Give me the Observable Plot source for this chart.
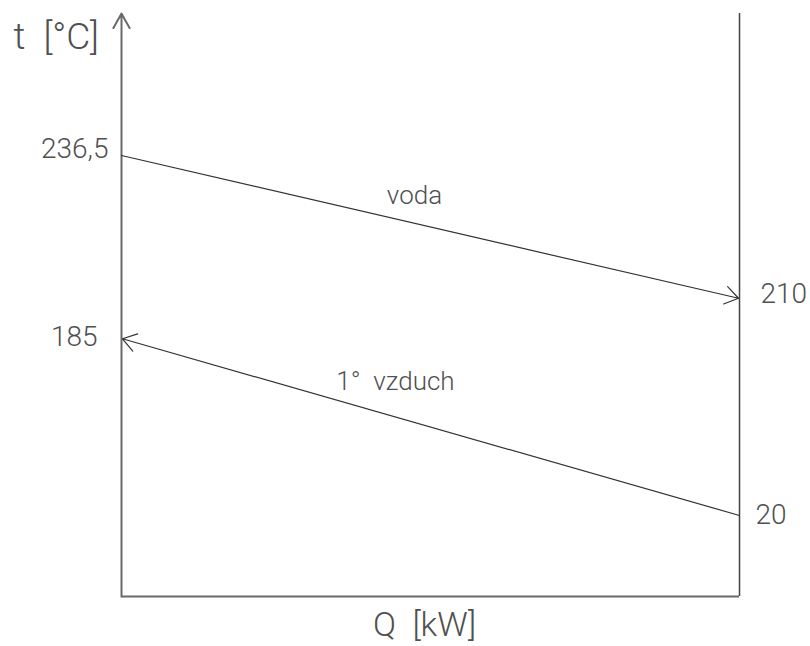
<!DOCTYPE html>
<html>
<head>
<meta charset="utf-8">
<script src="https://cdn.jsdelivr.net/npm/d3@7"></script>
<script src="https://cdn.jsdelivr.net/npm/@observablehq/plot@0.6"></script>
<style>
  html, body { margin: 0; padding: 0; background: #fff; }
  svg { display: block; }
</style>
</head>
<body>
<div id="chart"></div>
<script>
// t–Q diagram of a water / primary-air heat exchanger (schematic, not to scale)
const media   = ["voda", "1°  vzduch"];
const tStart  = [236.5, 20];   // °C at the start of each stream
const tEnd    = [210, 185];    // °C at the end of each stream
const qStart  = [0, 1];        // Q position where each stream starts
const qEnd    = [1, 0];        // Q position where each stream ends

// temperature labels on the two sides of the diagram
const leftTicks   = [236.5, 185];
const leftLabels  = ["236,5", "185"];
const rightTicks  = [210, 20];
const rightLabels = ["210", "20"];

// ends of the temperature axis
const tAxisBottom = 0;
const tAxisTop = 300;

// the diagram is not to scale: each temperature level gets a schematic height
const level = d3.scaleLinear()
  .domain([tAxisBottom, 20, 185, 210, 236.5, tAxisTop])
  .range([0, 81, 258, 298, 441, 583]);

const streams = media.map((name, i) => ({
  name, q1: qStart[i], t1: tStart[i], q2: qEnd[i], t2: tEnd[i],
  qm: (qStart[i] + qEnd[i]) / 2, tm: (tStart[i] + tEnd[i]) / 2
}));

const font = "Roboto, 'Liberation Sans', Arial, sans-serif";
const weight = 300;
const ink = "#505050";

function label(values, labels, i, x, opts) {
  return Plot.text([{t: values[i], s: labels[i]}], {
    x: () => x, y: "t", text: "s", fontSize: 28, fill: ink,
    fontFamily: font, fontWeight: weight, lineAnchor: "middle", ...opts
  });
}

const chart = Plot.plot({
  width: 810,
  height: 646,
  marginLeft: 121,
  marginRight: 71,
  marginTop: 13,
  marginBottom: 50,
  x: {domain: [0, 1], axis: null},
  y: {transform: level, domain: [0, 583], axis: null},
  marks: [
    // Q axis and the right-hand boundary
    Plot.ruleY([tAxisBottom], {stroke: "#6a6a6a", strokeWidth: 2}),
    Plot.ruleX([1], {stroke: "#444", strokeWidth: 1.5}),
    // t axis with its arrow
    Plot.arrow([{}], {
      x1: () => 0, y1: () => tAxisBottom, x2: () => 0, y2: () => tAxisTop,
      stroke: "#6a6a6a", strokeWidth: 2, headLength: 12.5, headAngle: 58
    }),
    // the two streams
    Plot.arrow(streams, {
      x1: "q1", y1: "t1", x2: "q2", y2: "t2",
      stroke: "#333", strokeWidth: 1.2, headLength: 20, headAngle: 68, insetEnd: 1
    }),
    // stream names
    Plot.text([streams[0]], {
      x: "qm", y: "tm", text: "name", dx: -16, dy: -23.5, lineAnchor: "bottom",
      fontSize: 26, fontFamily: font, fontWeight: weight, fill: ink
    }),
    Plot.text([streams[1]], {
      x: "qm", y: "tm", text: "name", dx: -35, dy: -37.5, lineAnchor: "bottom",
      fontSize: 26, fontFamily: font, fontWeight: weight, fill: ink
    }),
    // temperature labels
    label(leftTicks, leftLabels, 0, 0, {textAnchor: "end", dx: -13, dy: -6}),
    label(leftTicks, leftLabels, 1, 0, {textAnchor: "end", dx: -24, dy: -1.5}),
    label(rightTicks, rightLabels, 0, 1, {textAnchor: "start", dx: 21, dy: -4}),
    label(rightTicks, rightLabels, 1, 1, {textAnchor: "start", dx: 16, dy: 0}),
    // axis titles
    Plot.text(["t  [°C]"], {
      frameAnchor: "top-left", textAnchor: "start", lineAnchor: "bottom",
      dx: -108, dy: 35, fontSize: 37, fontFamily: font, fontWeight: weight, fill: ink
    }),
    Plot.text(["Q  [kW]"], {
      frameAnchor: "bottom", textAnchor: "middle", lineAnchor: "bottom",
      dx: -6, dy: 39, fontSize: 34, fontFamily: font, fontWeight: weight, fill: ink
    })
  ]
});

document.getElementById("chart").appendChild(chart);
</script>
</body>
</html>
